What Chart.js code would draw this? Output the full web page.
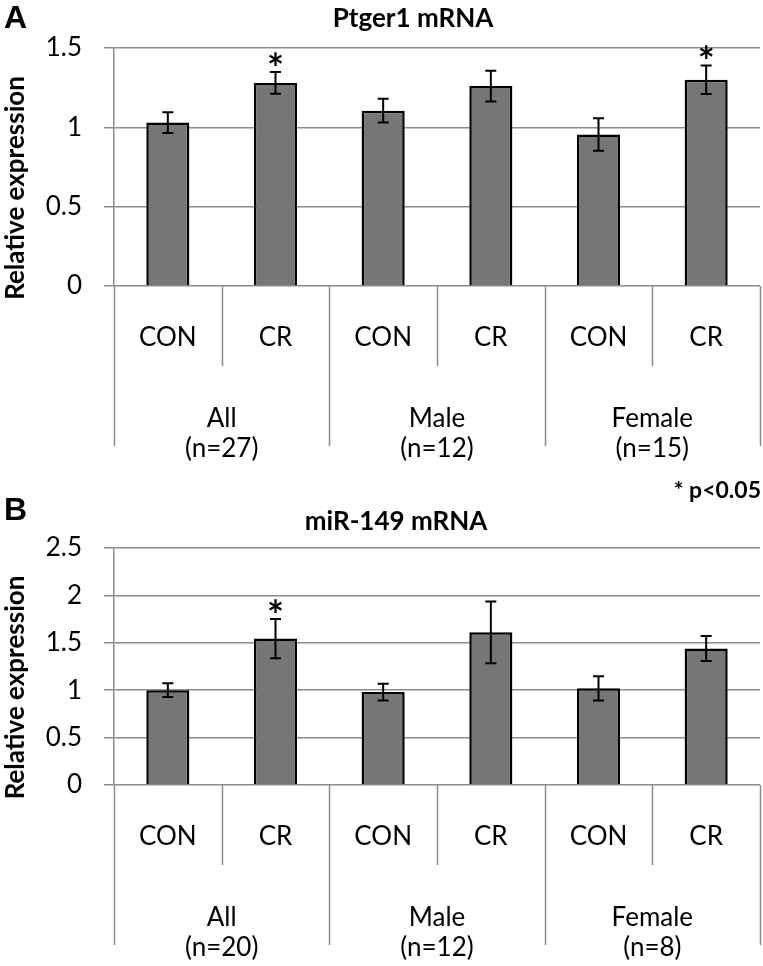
<!DOCTYPE html>
<html><head><meta charset="utf-8">
<script src="https://cdn.jsdelivr.net/npm/chart.js@4.4.1/dist/chart.umd.min.js"></script>
<style>
html,body{margin:0;padding:0;background:#fff;}
#wrap{position:relative;width:763px;height:966px;overflow:hidden;background:#fff;}
canvas{position:absolute;left:0;}
</style></head><body>
<div id="wrap">
<canvas id="chartA" width="763" height="480" style="top:0px"></canvas>
<canvas id="chartB" width="763" height="486" style="top:480px"></canvas>
</div>
<script>
// ---- data ----
const groups = ['All', 'Male', 'Female'];
const conditions = ['CON', 'CR'];
const groupSizesA = ['(n=27)', '(n=12)', '(n=15)'];
const groupSizesB = ['(n=20)', '(n=12)', '(n=8)'];

const ptger1Means = [1.03, 1.28, 1.105, 1.26, 0.955, 1.30];
const ptger1Errors = [0.065, 0.068, 0.075, 0.097, 0.103, 0.09];
const ptger1Significant = [false, true, false, false, false, true];

const mir149Means = [1.00, 1.545, 0.98, 1.61, 1.02, 1.44];
const mir149Errors = [0.073, 0.207, 0.088, 0.325, 0.128, 0.133];
const mir149Significant = [false, true, false, false, false, false];

const yTicksA = [0, 0.5, 1, 1.5];
const yTicksB = [0, 0.5, 1, 1.5, 2, 2.5];

const titleA = 'Ptger1 mRNA';
const titleB = 'miR-149 mRNA';
const yTitle = 'Relative expression';
const sigNote = '* p<0.05';

// ---- helpers ----
const categoryLabels = [];
groups.forEach(() => conditions.forEach(c => categoryLabels.push(c)));

const GRID = '#8c8c8c';
const LBL = '26px Lato, "Open Sans", sans-serif';

function makePanel(canvasId, cfg) {
  const decor = {
    id: 'decor_' + canvasId,
    afterDatasetsDraw(chart) {
      const ctx = chart.ctx;
      const meta = chart.getDatasetMeta(0);
      const y = chart.scales.y;
      ctx.save();
      ctx.strokeStyle = '#000';
      ctx.lineWidth = 2;
      meta.data.forEach((bar, i) => {
        const m = cfg.means[i], e = cfg.errors[i];
        const yt = y.getPixelForValue(m + e), yb = y.getPixelForValue(m - e), x = bar.x;
        ctx.beginPath();
        ctx.moveTo(x, yt); ctx.lineTo(x, yb);
        ctx.moveTo(x - 5.5, yt); ctx.lineTo(x + 5.5, yt);
        ctx.moveTo(x - 5.5, yb); ctx.lineTo(x + 5.5, yb);
        ctx.stroke();
        if (cfg.significant[i]) {
          ctx.fillStyle = '#000';
          ctx.font = 'bold 40px Lato, sans-serif';
          ctx.textAlign = 'center';
          ctx.textBaseline = 'alphabetic';
          const mt = ctx.measureText('*');
          const asc = mt.actualBoundingBoxAscent || 28, desc = mt.actualBoundingBoxDescent || -16;
          const cy = yt - 13;
          ctx.fillText('*', x, cy + (asc - desc) / 2);
        }
      });
      ctx.restore();
    },
    afterDraw(chart) {
      const ctx = chart.ctx;
      const x = chart.scales.x;
      const area = chart.chartArea;
      const base = area.bottom;
      const n = categoryLabels.length;
      ctx.save();
      // separators
      ctx.strokeStyle = GRID;
      ctx.lineWidth = 1.5;
      for (let j = 0; j <= n; j++) {
        const px = Math.round(x.getPixelForValue(j - 0.5)) + 0.5;
        const len = (j % conditions.length === 0) ? 160 : 80;
        ctx.beginPath(); ctx.moveTo(px, base); ctx.lineTo(px, base + len); ctx.stroke();
      }
      // category labels
      ctx.fillStyle = '#000';
      ctx.font = LBL;
      ctx.textAlign = 'center';
      ctx.textBaseline = 'middle';
      categoryLabels.forEach((lab, i) => {
        ctx.fillText(lab, x.getPixelForValue(i), base + 52);
      });
      groups.forEach((g, gi) => {
        const cx = x.getPixelForValue(gi * conditions.length + (conditions.length - 1) / 2);
        ctx.fillText(g, cx, base + 133);
        ctx.fillText(cfg.sizes[gi], cx, base + 163);
      });
      // chart title
      ctx.font = 'bold 26px Lato, sans-serif';
      ctx.textBaseline = 'alphabetic';
      ctx.fillText(cfg.title, cfg.titleX, cfg.titleBaseline);
      // panel letter
      ctx.font = 'bold 32px "Liberation Sans", Arial, sans-serif';
      ctx.textAlign = 'left';
      ctx.fillText(cfg.letter, 4, cfg.letterBaseline);
      // y-axis title
      ctx.save();
      ctx.translate(16, (area.top + area.bottom) / 2 + 21);
      ctx.rotate(-Math.PI / 2);
      ctx.font = 'bold 26px Lato, sans-serif';
      ctx.textAlign = 'center';
      ctx.textBaseline = 'middle';
      ctx.fillText(yTitle, 0, 0);
      ctx.restore();
      if (cfg.note) {
        ctx.font = 'bold 23px Lato, sans-serif';
        ctx.textAlign = 'right';
        ctx.textBaseline = 'alphabetic';
        ctx.fillText(cfg.note, 761, 18);
      }
      ctx.restore();
    }
  };

  return new Chart(document.getElementById(canvasId), {
    type: 'bar',
    data: {
      labels: categoryLabels,
      datasets: [{
        data: cfg.means,
        backgroundColor: '#767676',
        borderColor: '#000',
        borderWidth: 2.5,
        barPercentage: 0.4,
        categoryPercentage: 1.0
      }]
    },
    options: {
      responsive: false,
      animation: false,
      devicePixelRatio: 1,
      layout: { padding: { top: cfg.top, bottom: cfg.bottom, left: 0, right: 3 } },
      plugins: { legend: { display: false }, tooltip: { enabled: false }, title: { display: false } },
      scales: {
        x: { display: false, offset: true },
        y: {
          min: cfg.ticks[0],
          max: cfg.ticks[cfg.ticks.length - 1],
          afterBuildTicks: s => { s.ticks = cfg.ticks.map(v => ({ value: v })); },
          afterFit: s => { s.width = 114; },
          ticks: {
            color: '#000',
            font: { family: 'Lato, "Open Sans", sans-serif', size: 26 },
            padding: 22,
            callback: v => String(v)
          },
          grid: { color: GRID, lineWidth: 1.5, tickLength: 10, drawTicks: true },
          border: { display: true, color: GRID, width: 1.5 }
        }
      }
    },
    plugins: [decor]
  });
}

makePanel('chartA', {
  means: ptger1Means, errors: ptger1Errors, significant: ptger1Significant,
  sizes: groupSizesA, ticks: yTicksA, title: titleA, titleX: 413, titleBaseline: 27,
  letter: 'A', letterBaseline: 28, top: 48, bottom: 480 - 286, note: null
});
makePanel('chartB', {
  means: mir149Means, errors: mir149Errors, significant: mir149Significant,
  sizes: groupSizesB, ticks: yTicksB, title: titleB, titleX: 396, titleBaseline: 50,
  letter: 'B', letterBaseline: 40, top: 68, bottom: 486 - 305, note: sigNote
});
</script>
</body></html>
